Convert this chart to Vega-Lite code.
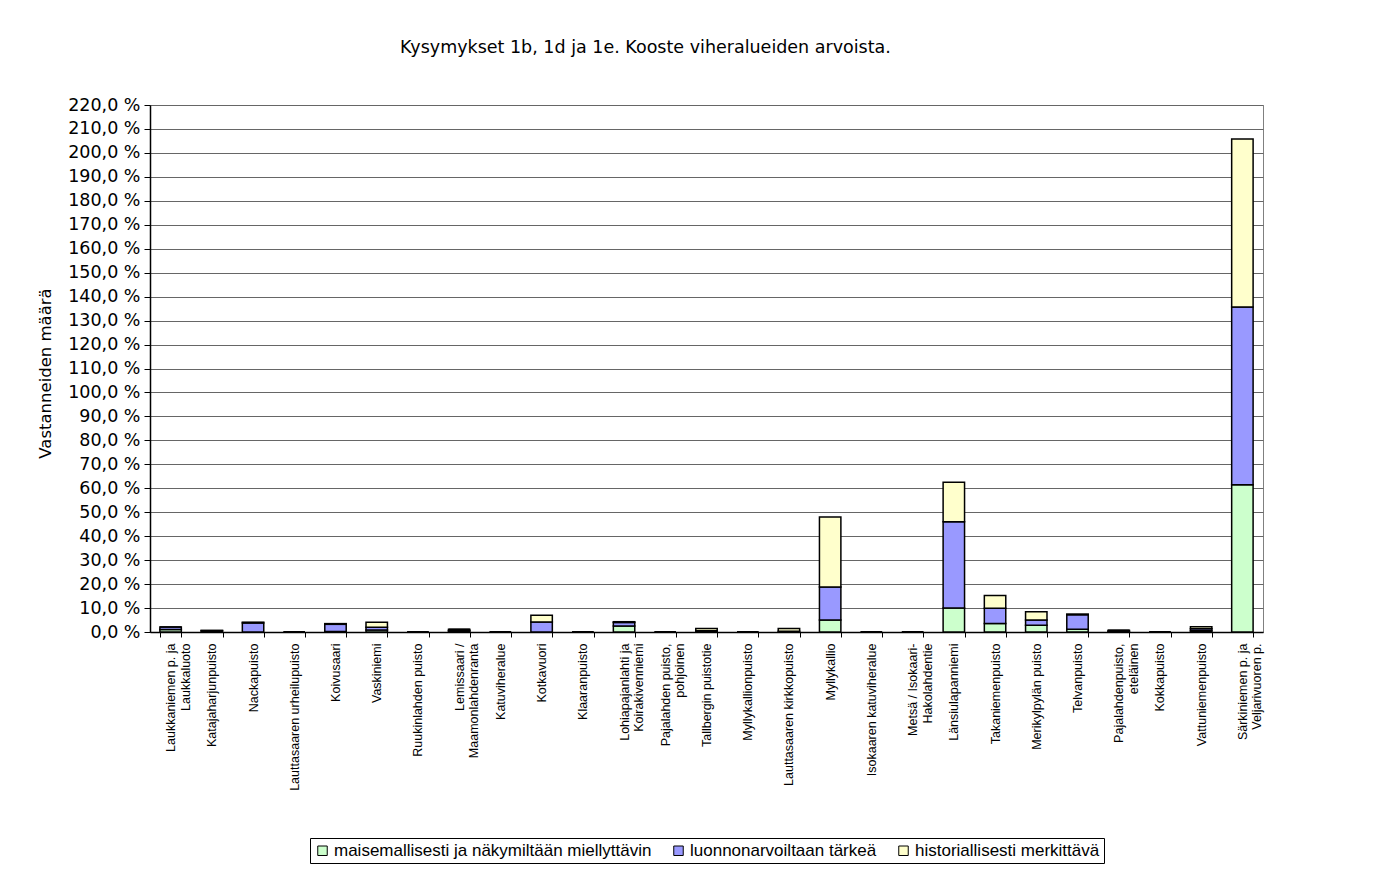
{
  "$schema": "https://vega.github.io/schema/vega-lite/v6.json",
  "autosize": "none",
  "width": 1113,
  "height": 527,
  "padding": {"left": 150, "top": 105, "right": 117, "bottom": 243},
  "background": "white",
  "title": {
    "text": "Kysymykset 1b, 1d ja 1e. Kooste viheralueiden arvoista.",
    "font": "DejaVu Sans",
    "fontSize": 17.5,
    "fontWeight": "normal",
    "color": "black",
    "anchor": "middle",
    "dx": -61,
    "offset": 40
  },
  "data": {
    "values": [
      {"park": "Laukkaniemen p. ja\nLaukkaluoto", "cat": "maisemallisesti ja näkymiltään miellyttävin", "ord": 1, "value": 1.0},
      {"park": "Laukkaniemen p. ja\nLaukkaluoto", "cat": "luonnonarvoiltaan tärkeä", "ord": 2, "value": 1.1},
      {"park": "Laukkaniemen p. ja\nLaukkaluoto", "cat": "historiallisesti merkittävä", "ord": 3, "value": 0},
      {"park": "Katajaharjunpuisto", "cat": "maisemallisesti ja näkymiltään miellyttävin", "ord": 1, "value": 0},
      {"park": "Katajaharjunpuisto", "cat": "luonnonarvoiltaan tärkeä", "ord": 2, "value": 0.5},
      {"park": "Katajaharjunpuisto", "cat": "historiallisesti merkittävä", "ord": 3, "value": 0.2},
      {"park": "Nackapuisto", "cat": "maisemallisesti ja näkymiltään miellyttävin", "ord": 1, "value": 0},
      {"park": "Nackapuisto", "cat": "luonnonarvoiltaan tärkeä", "ord": 2, "value": 3.8},
      {"park": "Nackapuisto", "cat": "historiallisesti merkittävä", "ord": 3, "value": 0.3},
      {"park": "Lauttasaaren urheilupuisto", "cat": "maisemallisesti ja näkymiltään miellyttävin", "ord": 1, "value": 0},
      {"park": "Lauttasaaren urheilupuisto", "cat": "luonnonarvoiltaan tärkeä", "ord": 2, "value": 0},
      {"park": "Lauttasaaren urheilupuisto", "cat": "historiallisesti merkittävä", "ord": 3, "value": 0},
      {"park": "Koivusaari", "cat": "maisemallisesti ja näkymiltään miellyttävin", "ord": 1, "value": 0.2},
      {"park": "Koivusaari", "cat": "luonnonarvoiltaan tärkeä", "ord": 2, "value": 3.0},
      {"park": "Koivusaari", "cat": "historiallisesti merkittävä", "ord": 3, "value": 0.3},
      {"park": "Vaskiniemi", "cat": "maisemallisesti ja näkymiltään miellyttävin", "ord": 1, "value": 0.8},
      {"park": "Vaskiniemi", "cat": "luonnonarvoiltaan tärkeä", "ord": 2, "value": 1.2},
      {"park": "Vaskiniemi", "cat": "historiallisesti merkittävä", "ord": 3, "value": 2.1},
      {"park": "Ruukinlahden puisto", "cat": "maisemallisesti ja näkymiltään miellyttävin", "ord": 1, "value": 0},
      {"park": "Ruukinlahden puisto", "cat": "luonnonarvoiltaan tärkeä", "ord": 2, "value": 0},
      {"park": "Ruukinlahden puisto", "cat": "historiallisesti merkittävä", "ord": 3, "value": 0},
      {"park": "Lemissaari /\nMaamonlahdenranta", "cat": "maisemallisesti ja näkymiltään miellyttävin", "ord": 1, "value": 0.5},
      {"park": "Lemissaari /\nMaamonlahdenranta", "cat": "luonnonarvoiltaan tärkeä", "ord": 2, "value": 0.6},
      {"park": "Lemissaari /\nMaamonlahdenranta", "cat": "historiallisesti merkittävä", "ord": 3, "value": 0},
      {"park": "Katuviheralue", "cat": "maisemallisesti ja näkymiltään miellyttävin", "ord": 1, "value": 0},
      {"park": "Katuviheralue", "cat": "luonnonarvoiltaan tärkeä", "ord": 2, "value": 0},
      {"park": "Katuviheralue", "cat": "historiallisesti merkittävä", "ord": 3, "value": 0},
      {"park": "Kotkavuori", "cat": "maisemallisesti ja näkymiltään miellyttävin", "ord": 1, "value": 0},
      {"park": "Kotkavuori", "cat": "luonnonarvoiltaan tärkeä", "ord": 2, "value": 4.2},
      {"park": "Kotkavuori", "cat": "historiallisesti merkittävä", "ord": 3, "value": 2.8},
      {"park": "Klaaranpuisto", "cat": "maisemallisesti ja näkymiltään miellyttävin", "ord": 1, "value": 0},
      {"park": "Klaaranpuisto", "cat": "luonnonarvoiltaan tärkeä", "ord": 2, "value": 0},
      {"park": "Klaaranpuisto", "cat": "historiallisesti merkittävä", "ord": 3, "value": 0},
      {"park": "Lohiapajanlahti ja\nKoirakivenniemi", "cat": "maisemallisesti ja näkymiltään miellyttävin", "ord": 1, "value": 2.5},
      {"park": "Lohiapajanlahti ja\nKoirakivenniemi", "cat": "luonnonarvoiltaan tärkeä", "ord": 2, "value": 1.5},
      {"park": "Lohiapajanlahti ja\nKoirakivenniemi", "cat": "historiallisesti merkittävä", "ord": 3, "value": 0.3},
      {"park": "Pajalahden puisto,\npohjoinen", "cat": "maisemallisesti ja näkymiltään miellyttävin", "ord": 1, "value": 0},
      {"park": "Pajalahden puisto,\npohjoinen", "cat": "luonnonarvoiltaan tärkeä", "ord": 2, "value": 0},
      {"park": "Pajalahden puisto,\npohjoinen", "cat": "historiallisesti merkittävä", "ord": 3, "value": 0},
      {"park": "Tallbergin puistotie", "cat": "maisemallisesti ja näkymiltään miellyttävin", "ord": 1, "value": 0.5},
      {"park": "Tallbergin puistotie", "cat": "luonnonarvoiltaan tärkeä", "ord": 2, "value": 0},
      {"park": "Tallbergin puistotie", "cat": "historiallisesti merkittävä", "ord": 3, "value": 1.0},
      {"park": "Myllykallionpuisto", "cat": "maisemallisesti ja näkymiltään miellyttävin", "ord": 1, "value": 0},
      {"park": "Myllykallionpuisto", "cat": "luonnonarvoiltaan tärkeä", "ord": 2, "value": 0},
      {"park": "Myllykallionpuisto", "cat": "historiallisesti merkittävä", "ord": 3, "value": 0},
      {"park": "Lauttasaaren kirkkopuisto", "cat": "maisemallisesti ja näkymiltään miellyttävin", "ord": 1, "value": 0.3},
      {"park": "Lauttasaaren kirkkopuisto", "cat": "luonnonarvoiltaan tärkeä", "ord": 2, "value": 0},
      {"park": "Lauttasaaren kirkkopuisto", "cat": "historiallisesti merkittävä", "ord": 3, "value": 1.2},
      {"park": "Myllykallio", "cat": "maisemallisesti ja näkymiltään miellyttävin", "ord": 1, "value": 5.0},
      {"park": "Myllykallio", "cat": "luonnonarvoiltaan tärkeä", "ord": 2, "value": 13.8},
      {"park": "Myllykallio", "cat": "historiallisesti merkittävä", "ord": 3, "value": 29.2},
      {"park": "Isokaaren katuviheralue", "cat": "maisemallisesti ja näkymiltään miellyttävin", "ord": 1, "value": 0},
      {"park": "Isokaaren katuviheralue", "cat": "luonnonarvoiltaan tärkeä", "ord": 2, "value": 0},
      {"park": "Isokaaren katuviheralue", "cat": "historiallisesti merkittävä", "ord": 3, "value": 0},
      {"park": "Metsä / Isokaari-\nHakolahdentie", "cat": "maisemallisesti ja näkymiltään miellyttävin", "ord": 1, "value": 0},
      {"park": "Metsä / Isokaari-\nHakolahdentie", "cat": "luonnonarvoiltaan tärkeä", "ord": 2, "value": 0},
      {"park": "Metsä / Isokaari-\nHakolahdentie", "cat": "historiallisesti merkittävä", "ord": 3, "value": 0},
      {"park": "Länsiulapanniemi", "cat": "maisemallisesti ja näkymiltään miellyttävin", "ord": 1, "value": 10.0},
      {"park": "Länsiulapanniemi", "cat": "luonnonarvoiltaan tärkeä", "ord": 2, "value": 36.0},
      {"park": "Länsiulapanniemi", "cat": "historiallisesti merkittävä", "ord": 3, "value": 16.5},
      {"park": "Takaniemenpuisto", "cat": "maisemallisesti ja näkymiltään miellyttävin", "ord": 1, "value": 3.5},
      {"park": "Takaniemenpuisto", "cat": "luonnonarvoiltaan tärkeä", "ord": 2, "value": 6.4},
      {"park": "Takaniemenpuisto", "cat": "historiallisesti merkittävä", "ord": 3, "value": 5.3},
      {"park": "Merikylpylän puisto", "cat": "maisemallisesti ja näkymiltään miellyttävin", "ord": 1, "value": 2.8},
      {"park": "Merikylpylän puisto", "cat": "luonnonarvoiltaan tärkeä", "ord": 2, "value": 2.2},
      {"park": "Merikylpylän puisto", "cat": "historiallisesti merkittävä", "ord": 3, "value": 3.5},
      {"park": "Telvanpuisto", "cat": "maisemallisesti ja näkymiltään miellyttävin", "ord": 1, "value": 1.1},
      {"park": "Telvanpuisto", "cat": "luonnonarvoiltaan tärkeä", "ord": 2, "value": 6.1},
      {"park": "Telvanpuisto", "cat": "historiallisesti merkittävä", "ord": 3, "value": 0.3},
      {"park": "Pajalahdenpuisto,\neteläinen", "cat": "maisemallisesti ja näkymiltään miellyttävin", "ord": 1, "value": 0.3},
      {"park": "Pajalahdenpuisto,\neteläinen", "cat": "luonnonarvoiltaan tärkeä", "ord": 2, "value": 0.4},
      {"park": "Pajalahdenpuisto,\neteläinen", "cat": "historiallisesti merkittävä", "ord": 3, "value": 0},
      {"park": "Kokkapuisto", "cat": "maisemallisesti ja näkymiltään miellyttävin", "ord": 1, "value": 0},
      {"park": "Kokkapuisto", "cat": "luonnonarvoiltaan tärkeä", "ord": 2, "value": 0},
      {"park": "Kokkapuisto", "cat": "historiallisesti merkittävä", "ord": 3, "value": 0},
      {"park": "Vattuniemenpuisto", "cat": "maisemallisesti ja näkymiltään miellyttävin", "ord": 1, "value": 0.5},
      {"park": "Vattuniemenpuisto", "cat": "luonnonarvoiltaan tärkeä", "ord": 2, "value": 0.9},
      {"park": "Vattuniemenpuisto", "cat": "historiallisesti merkittävä", "ord": 3, "value": 0.8},
      {"park": "Särkiniemen p. ja\nVeljarivuoren p.", "cat": "maisemallisesti ja näkymiltään miellyttävin", "ord": 1, "value": 61.5},
      {"park": "Särkiniemen p. ja\nVeljarivuoren p.", "cat": "luonnonarvoiltaan tärkeä", "ord": 2, "value": 74.2},
      {"park": "Särkiniemen p. ja\nVeljarivuoren p.", "cat": "historiallisesti merkittävä", "ord": 3, "value": 70.1}
    ]
  },
  "mark": {"type": "bar", "stroke": "black", "strokeWidth": 1.5},
  "encoding": {
    "x": {
      "field": "park",
      "type": "nominal",
      "sort": null,
      "scale": {"paddingInner": 0.48, "paddingOuter": 0.24},
      "axis": {
        "title": null,
        "labelAngle": -90,
        "labelFont": "Liberation Sans",
        "labelFontSize": 12.5,
        "labelColor": "black",
        "labelExpr": "split(datum.label, '\\n')",
        "labelLimit": 200,
        "labelPadding": 6,
        "tickBand": "extent",
        "tickSize": 5,
        "tickColor": "black",
        "domainColor": "black",
        "domainWidth": 1.5
      }
    },
    "y": {
      "field": "value",
      "type": "quantitative",
      "stack": "zero",
      "scale": {"domain": [0, 220], "nice": false},
      "axis": {
        "title": "Vastanneiden määrä",
        "titleFont": "DejaVu Sans",
        "titleFontSize": 16.5,
        "titleFontWeight": "normal",
        "titleColor": "black",
        "titleX": -105,
        "titleY": 268,
        "titleAngle": -90,
        "titleAlign": "center",
        "titleBaseline": "middle",
        "values": [0, 10, 20, 30, 40, 50, 60, 70, 80, 90, 100, 110, 120, 130, 140, 150, 160, 170, 180, 190, 200, 210, 220],
        "labelExpr": "replace(format(datum.value, '.1f'), '.', ',') + ' %'",
        "labelFont": "DejaVu Sans",
        "labelFontSize": 17.5,
        "labelColor": "black",
        "labelPadding": 4,
        "tickSize": 6,
        "tickColor": "black",
        "domainColor": "black",
        "domainWidth": 1.5,
        "grid": true,
        "gridColor": "#666666",
        "gridWidth": 1
      }
    },
    "color": {
      "field": "cat",
      "type": "nominal",
      "scale": {
        "domain": ["maisemallisesti ja näkymiltään miellyttävin", "luonnonarvoiltaan tärkeä", "historiallisesti merkittävä"],
        "range": ["#CCFFCC", "#9999FF", "#FFFFCC"]
      },
      "legend": {
        "title": null,
        "orient": "none",
        "direction": "horizontal",
        "legendX": 160,
        "legendY": 733,
        "strokeColor": "black",
        "padding": 4,
        "symbolType": "square",
        "symbolSize": 90,
        "symbolStrokeColor": "black",
        "symbolStrokeWidth": 1,
        "symbolOpacity": 1,
        "labelFont": "Liberation Sans",
        "labelFontSize": 17,
        "labelColor": "black",
        "labelOffset": 3,
        "columnPadding": 18,
        "labelLimit": 400
      }
    },
    "order": {"field": "ord", "type": "quantitative"}
  },
  "config": {
    "view": {"stroke": "#808080"}
  }
}
